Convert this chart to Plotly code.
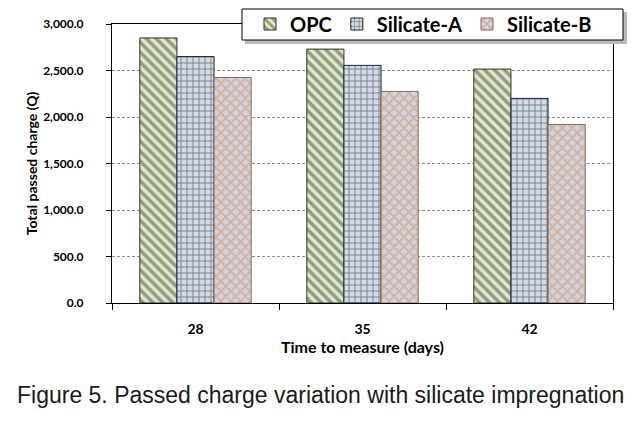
import plotly.graph_objects as go

categories = ["28", "35", "42"]
opc = [2850, 2730, 2515]
silicate_a = [2650, 2555, 2200]
silicate_b = [2425, 2275, 1920]
y_ticks = [0, 500, 1000, 1500, 2000, 2500, 3000]

FONT = "Lato, Open Sans, sans-serif"
CAP = "Liberation Sans, Arial, sans-serif"

fig = go.Figure()
fig.add_bar(name="OPC", x=categories, y=opc,
            marker=dict(color="#dfe9cf", line=dict(color="#2e3320", width=1),
                        pattern=dict(shape="\\", fgcolor="#43502c", bgcolor="#dfe9cf",
                                     size=7, solidity=0.5)))
fig.add_bar(name="Silicate-A", x=categories, y=silicate_a,
            marker=dict(color="#d3dbe6", line=dict(color="#1a2233", width=1),
                        pattern=dict(shape="+", fgcolor="#161e2e", bgcolor="#d3dbe6",
                                     size=6, solidity=0.28)))
fig.add_bar(name="Silicate-B", x=categories, y=silicate_b,
            marker=dict(color="#c9d7ea", line=dict(color="#8a6a50", width=1),
                        pattern=dict(shape="x", fgcolor="#eb8c45", bgcolor="#c9d7ea",
                                     size=7, solidity=0.5)))

# paper coords over plot area (page pixels 112..613 x 24..303)
def px_x(x):
    return (x - 112) / 501.0

def px_y(y):
    return (303 - y) / 279.0

fig.add_shape(type="rect", xref="paper", yref="paper", layer="above",
              x0=px_x(245), x1=px_x(627), y0=px_y(44), y1=px_y(12),
              fillcolor="#b8b8b8", line=dict(width=0))
fig.add_shape(type="rect", xref="paper", yref="paper", layer="above",
              x0=px_x(242), x1=px_x(623), y0=px_y(40), y1=px_y(9),
              fillcolor="white", line=dict(color="black", width=1))

fig.add_annotation(text="Figure 5. Passed charge variation with silicate impregnation",
                   xref="paper", yref="paper", x=px_x(320), y=px_y(395),
                   xanchor="center", yanchor="middle", showarrow=False,
                   font=dict(family=CAP, size=23, color="#1a1a1a"))

# page body has an 8px margin, so the figure is offset by 8px
fig.update_layout(
    width=633, height=413,
    margin=dict(l=104, r=28, t=16, b=118, autoexpand=False),
    paper_bgcolor="white", plot_bgcolor="white",
    barmode="group", bargap=0.333, bargroupgap=0,
    font=dict(family=FONT, color="black"),
    showlegend=True,
    legend=dict(orientation="h", x=px_x(250), y=px_y(24), xanchor="left", yanchor="middle",
                bgcolor="rgba(0,0,0,0)", borderwidth=0,
                font=dict(family=FONT, size=20, color="black", weight="bold"),
                itemwidth=30, tracegroupgap=0),
    xaxis=dict(
        showline=True, linecolor="black", linewidth=1, mirror=True,
        ticks="outside", tickson="boundaries", ticklen=6, tickcolor="black",
        tickfont=dict(family=FONT, size=14, weight="bold"),
        ticklabelstandoff=13,
        automargin=False,
        title=dict(text="Time to measure (days)", standoff=2,
                   font=dict(family=FONT, size=16, weight="bold")),
    ),
    yaxis=dict(
        range=[0, 3000], tickvals=y_ticks, tickformat=",.1f",
        showline=True, linecolor="black", linewidth=1, mirror=True,
        ticks="outside", ticklen=5, tickcolor="black",
        showgrid=True, gridcolor="#8a8a8a", griddash="3px,2px", gridwidth=1,
        zeroline=False, automargin=False,
        tickfont=dict(family=FONT, size=12, weight="bold"),
        ticklabelstandoff=20,
        title=dict(text="Total passed charge (Q)", standoff=2,
                   font=dict(family=FONT, size=14, weight="bold")),
    ),
)

fig.write_html("out.html")
